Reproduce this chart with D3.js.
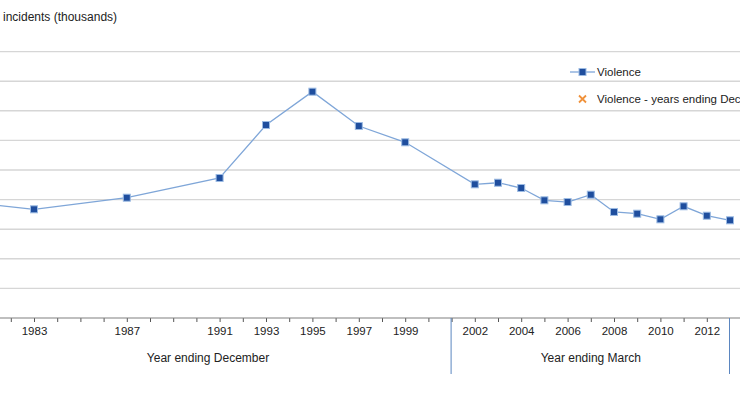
<!DOCTYPE html>
<html>
<head>
<meta charset="utf-8">
<script src="https://cdn.jsdelivr.net/npm/d3@7"></script>
<style>
  html, body { margin: 0; padding: 0; background: #fff; }
  svg { display: block; font-family: "Liberation Sans", Arial, sans-serif; }
</style>
</head>
<body>
<svg id="chart" width="740" height="400"></svg>
<script>
// ---- data ----
const years = [1981, 1983, 1987, 1991, 1993, 1995, 1997, 1999,
               2002, 2003, 2004, 2005, 2006, 2007, 2008, 2009, 2010, 2011, 2012, 2013];
const violence = [1919, 1836, 2032, 2365, 3260, 3823, 3243, 2968,
                  2258, 2285, 2196, 1988, 1959, 2083, 1791, 1762, 1667, 1887, 1728, 1650];
const tickYears = d3.range(1981, 2013);
const labelYears = [1983, 1987, 1991, 1993, 1995, 1997, 1999, 2002, 2004, 2006, 2008, 2010, 2012];
const yTicks = [500, 1000, 1500, 2000, 2500, 3000, 3500, 4000, 4500];
const groups = [
  { label: "Year ending December", from: 1980, to: 2001 },
  { label: "Year ending March", from: 2001, to: 2013 }
];
const separators = [2001, 2013];
const legendItems = ["Violence", "Violence - years ending December"];
const yTitle = "incidents (thousands)";

// ---- layout ----
const svg = d3.select("#chart");
const x = d3.scaleLinear().domain([1983, 2013]).range([34, 730]);
const y = d3.scaleLinear().domain([0, 4500]).range([318, 51.6]);

// gridlines
svg.append("g").selectAll("line").data(yTicks).join("line")
  .attr("x1", -40).attr("x2", 740)
  .attr("y1", d => y(d)).attr("y2", d => y(d))
  .attr("stroke", "#d6d6d6").attr("stroke-width", 1.4);

// y title
svg.append("text").attr("x", 3).attr("y", 21)
  .attr("font-size", 12).attr("fill", "#222").text(yTitle);

// x axis
const xAxis = d3.axisBottom(x).tickValues(tickYears).tickSize(4).tickPadding(5)
  .tickFormat(d => labelYears.includes(d) ? String(d) : "");
const gx = svg.append("g").attr("transform", `translate(0,${y(0)})`).call(xAxis);
gx.select(".domain").remove();
gx.selectAll(".tick line").attr("stroke", "#555");
gx.selectAll(".tick text").attr("font-size", 11.5).attr("fill", "#222")
  .attr("font-family", "'Liberation Sans', Arial, sans-serif");
svg.append("line").attr("x1", -40).attr("x2", 740)
  .attr("y1", y(0)).attr("y2", y(0)).attr("stroke", "#808080").attr("stroke-width", 1.2);

// separators
svg.append("g").selectAll("line").data(separators).join("line")
  .attr("x1", d => x(d) - 0.5).attr("x2", d => x(d) - 0.5)
  .attr("y1", y(0)).attr("y2", 374)
  .attr("stroke", "#5b86c0").attr("stroke-width", 1);

// group labels
svg.append("g").selectAll("text").data(groups).join("text")
  .attr("x", d => (x(d.from) + x(d.to)) / 2).attr("y", 362)
  .attr("text-anchor", "middle").attr("font-size", 12).attr("fill", "#222")
  .attr("font-family", "'Liberation Sans Narrow', 'Liberation Sans', Arial, sans-serif")
  .text(d => d.label);

// line
const pts = years.map((yr, i) => ({ yr, v: violence[i] }));
svg.append("path").datum(pts)
  .attr("fill", "none").attr("stroke", "#7fa6d8").attr("stroke-width", 1.3)
  .attr("d", d3.line().x(d => x(d.yr)).y(d => y(d.v)));

// markers
svg.append("g").selectAll("rect").data(pts).join("rect")
  .attr("x", d => x(d.yr) - 3.5).attr("y", d => y(d.v) - 3.5)
  .attr("width", 7).attr("height", 7)
  .attr("fill", "#1f4e9e").attr("stroke", "#9cbbe3").attr("stroke-width", 1);

// legend
const lg = svg.append("g");
lg.append("line").attr("x1", 570).attr("x2", 595).attr("y1", 72).attr("y2", 72)
  .attr("stroke", "#7fa6d8").attr("stroke-width", 1.3);
lg.append("rect").attr("x", 579).attr("y", 68.5).attr("width", 7).attr("height", 7)
  .attr("fill", "#1f4e9e").attr("stroke", "#9cbbe3").attr("stroke-width", 1);
lg.append("text").attr("x", 597).attr("y", 76).attr("font-size", 11.5).attr("fill", "#222")
  .text(legendItems[0]);
const cx = 582.5, cy = 99;
lg.append("path").attr("d", `M${cx-3.5},${cy-3.5}L${cx+3.5},${cy+3.5}M${cx-3.5},${cy+3.5}L${cx+3.5},${cy-3.5}`)
  .attr("stroke", "#f0913a").attr("stroke-width", 1.8);
lg.append("text").attr("x", 597).attr("y", 103).attr("font-size", 11.5).attr("fill", "#222")
  .text(legendItems[1]);
</script>
</body>
</html>
